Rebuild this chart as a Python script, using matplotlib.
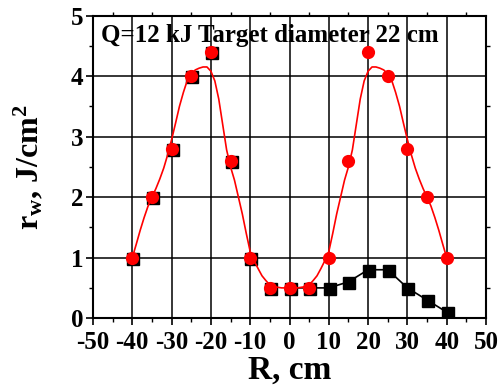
import matplotlib
matplotlib.use('Agg')
import matplotlib.pyplot as plt
import matplotlib.transforms as mtransforms
from matplotlib.ticker import MultipleLocator

plt.rcParams['font.family'] = ['Liberation Serif', 'DejaVu Serif']
plt.rcParams['font.weight'] = 'bold'
plt.rcParams['axes.unicode_minus'] = False
plt.rcParams['mathtext.fontset'] = 'custom'
plt.rcParams['mathtext.rm'] = 'Liberation Serif:bold'
plt.rcParams['mathtext.it'] = 'Liberation Serif:bold'
plt.rcParams['mathtext.bf'] = 'Liberation Serif:bold'

# measured points (black squares)
r_meas = [-40, -35, -30, -25, -20, -15, -10, -5, 0, 5, 10, 15, 20, 25, 30, 35, 40]
w_meas = [1.0, 2.0, 2.8, 4.0, 4.4, 2.6, 1.0, 0.5, 0.5, 0.5, 0.5, 0.6, 0.8, 0.8, 0.5, 0.3, 0.1]

# symmetric points (red circles)
r_sym = [-40, -35, -30, -25, -20, -15, -10, -5, 0, 5, 10, 15, 20, 25, 30, 35, 40]
w_sym = [1.0, 2.0, 2.8, 4.0, 4.4, 2.6, 1.0, 0.5, 0.5, 0.5, 1.0, 2.6, 4.4, 4.0, 2.8, 2.0, 1.0]

# fitted curve, every 1 cm
r_fit = list(range(-40, 41))
w_fit = [1.00, 1.22, 1.45, 1.66, 1.85, 2.00, 2.14, 2.30, 2.48, 2.70,
         2.95, 3.22, 3.50, 3.73, 3.93, 4.03, 4.10, 4.13, 4.15, 4.15,
         4.08, 3.92, 3.62, 3.20, 2.78, 2.50, 2.28, 2.00, 1.72, 1.40,
         1.10, 0.95, 0.82, 0.70, 0.62, 0.55, 0.52, 0.51, 0.50, 0.50,
         0.50,
         0.50, 0.50, 0.51, 0.52, 0.55, 0.62, 0.70, 0.82, 0.95, 1.10,
         1.40, 1.72, 2.00, 2.28, 2.50, 2.78, 3.20, 3.62, 3.92, 4.08,
         4.15, 4.15, 4.13, 4.10, 4.03, 3.93, 3.73, 3.50, 3.22, 2.95,
         2.70, 2.48, 2.30, 2.14, 2.00, 1.85, 1.66, 1.45, 1.22, 1.00]

fig = plt.figure(figsize=(5, 3.88), dpi=100)
ax = fig.add_axes([0.186, 0.18, 0.786, 0.78])

ax.grid(True, which='major', color='black', linewidth=1.1, zorder=0)
ax.set_axisbelow(True)

# black line only joins the right half
r_right = [r for r in r_meas if r >= 0]
w_right = [w for r, w in zip(r_meas, w_meas) if r >= 0]
ax.plot(r_right, w_right, color='black', linewidth=1.2, zorder=2)

shift = mtransforms.ScaledTranslation(1 / 100, -1 / 100, fig.dpi_scale_trans)
ax.plot(r_meas, w_meas, linestyle='none', marker='s', markersize=8.5,
        color='black', zorder=3, transform=ax.transData + shift)

ax.plot(r_fit, w_fit, color='red', linewidth=1.2, zorder=4)
ax.plot(r_sym, w_sym, linestyle='none', marker='o', markersize=9.5,
        color='red', markeredgewidth=0, zorder=5)

ax.set_xlim(-50, 50)
ax.set_ylim(0, 5)
ax.xaxis.set_major_locator(MultipleLocator(10))
ax.xaxis.set_minor_locator(MultipleLocator(5))
ax.yaxis.set_major_locator(MultipleLocator(1))
ax.yaxis.set_minor_locator(MultipleLocator(0.5))
ax.tick_params(which='major', direction='out', length=5, width=1.2,
               labelsize=18)
ax.tick_params(axis='x', which='major', pad=4)
ax.tick_params(axis='y', which='major', pad=2)
ax.tick_params(which='minor', direction='out', length=3, width=1.0,
               top=True, right=True)
for s in ax.spines.values():
    s.set_linewidth(1.5)

ax.set_xlabel('R, cm', fontsize=24, fontweight='bold', labelpad=1)
ax.set_ylabel(r'$\mathrm{r_w}$, J/cm$^2$', fontsize=23, fontweight='bold')
ax.yaxis.set_label_coords(-0.12, 0.5)

ax.text(0.02, 0.913, 'Q=12 kJ Target diameter 22 cm', transform=ax.transAxes,
        fontsize=18, fontweight='bold', va='baseline', ha='left', zorder=6)

fig.savefig('out.png', dpi=100)
